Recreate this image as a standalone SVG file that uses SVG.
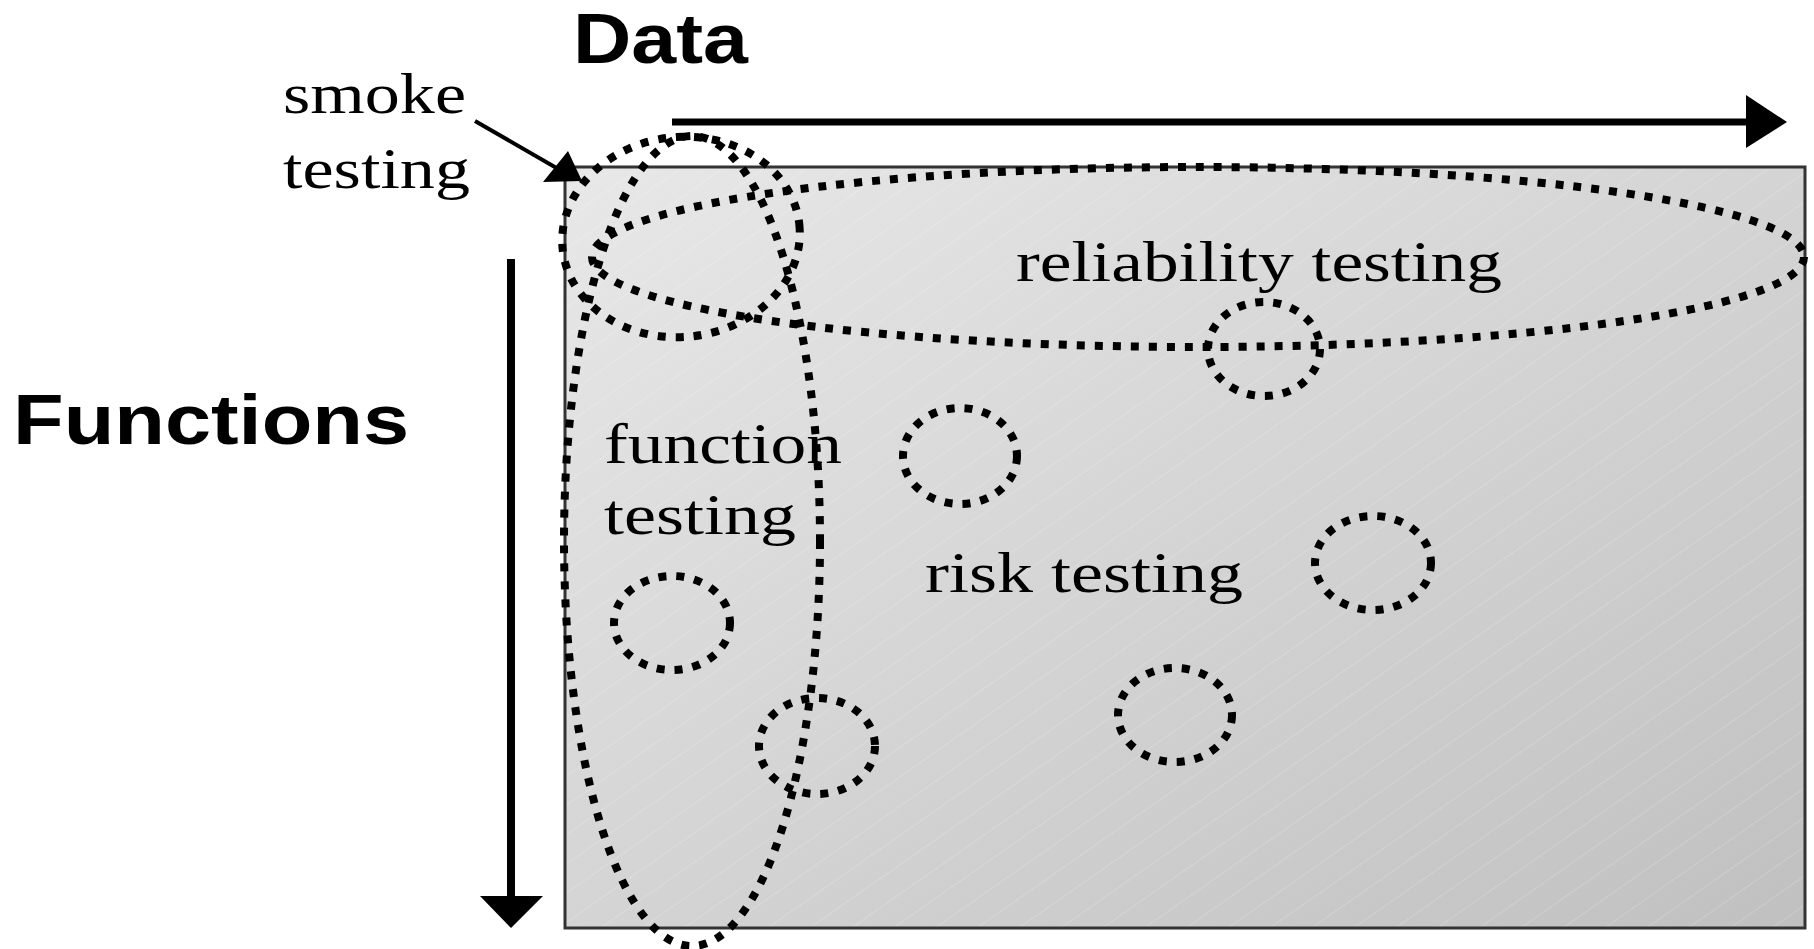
<svg xmlns="http://www.w3.org/2000/svg" width="1814" height="949" viewBox="0 0 1814 949">
  <style>
    .axis { font-family: "Liberation Sans", Arial, sans-serif; font-weight: bold; font-size: 70px; fill: #000; }
    .lbl { font-family: "Liberation Serif", "Times New Roman", serif; font-size: 58px; fill: #000; }
    .dot { fill: none; stroke: #000; stroke-width: 8; stroke-dasharray: 8 10; }
    .line { stroke: #000; fill: none; }
  </style>
  <defs>
    <linearGradient id="bg" x1="0" y1="0" x2="1" y2="1">
      <stop offset="0" stop-color="#e8e8e8"/>
      <stop offset="1" stop-color="#c0c0c0"/>
    </linearGradient>
    <pattern id="streaks" width="24" height="24" patternUnits="userSpaceOnUse" patternTransform="rotate(-35)">
      <line x1="0" y1="0" x2="24" y2="0" stroke="#ffffff" stroke-opacity="0.35" stroke-width="1"/>
    </pattern>
  </defs>
  <rect width="1814" height="949" fill="#ffffff"/>

  <g id="field">
    <rect x="565" y="167" width="1240" height="761" fill="url(#bg)"/>
    <rect x="565" y="167" width="1240" height="761" fill="url(#streaks)"/>
    <rect x="565" y="167" width="1240" height="761" fill="none" stroke="#333333" stroke-width="3"/>
  </g>

  <g id="axis-data">
    <text class="axis" x="573" y="63" textLength="175" lengthAdjust="spacingAndGlyphs">Data</text>
  </g>
  <g id="axis-functions">
    <text class="axis" x="13" y="444" textLength="396" lengthAdjust="spacingAndGlyphs">Functions</text>
  </g>

  <g id="smoke-testing">
    <ellipse class="dot" cx="681" cy="237" rx="119" ry="100" transform="rotate(-6 681 237)"/>
    <text class="lbl" x="283" y="113" textLength="183" lengthAdjust="spacingAndGlyphs">smoke</text>
    <text class="lbl" x="283" y="188" textLength="187" lengthAdjust="spacingAndGlyphs">testing</text>
  </g>

  <g id="reliability-testing">
    <ellipse class="dot" cx="1198" cy="257" rx="606" ry="90"/>
    <text class="lbl" x="1016" y="281" textLength="486" lengthAdjust="spacingAndGlyphs">reliability testing</text>
  </g>

  <g id="function-testing">
    <ellipse class="dot" cx="692" cy="541" rx="128" ry="405"/>
    <text class="lbl" x="604" y="463" textLength="238" lengthAdjust="spacingAndGlyphs">function</text>
    <text class="lbl" x="604" y="534" textLength="192" lengthAdjust="spacingAndGlyphs">testing</text>
  </g>

  <g id="risk-testing">
    <ellipse class="dot" cx="1264" cy="349" rx="56" ry="47"/>
    <ellipse class="dot" cx="960" cy="456" rx="57" ry="48"/>
    <ellipse class="dot" cx="1373" cy="563" rx="58" ry="47"/>
    <ellipse class="dot" cx="672" cy="623" rx="58" ry="47"/>
    <ellipse class="dot" cx="817" cy="746" rx="58" ry="48"/>
    <ellipse class="dot" cx="1175" cy="715" rx="57" ry="47"/>
    <text class="lbl" x="925" y="592" textLength="318" lengthAdjust="spacingAndGlyphs">risk testing</text>
  </g>

  <g id="connectors">
    <line class="line" x1="672" y1="122" x2="1748" y2="122" stroke-width="7"/>
    <polygon points="1746,95 1787,122 1746,148" fill="#000"/>
    <line class="line" x1="511" y1="259" x2="511" y2="898" stroke-width="8"/>
    <polygon points="480,896 543,896 511,928" fill="#000"/>
    <line class="line" x1="475" y1="121" x2="560" y2="170" stroke-width="4"/>
    <polygon points="568,151 543,182 582,181" fill="#000"/>
  </g>
</svg>
